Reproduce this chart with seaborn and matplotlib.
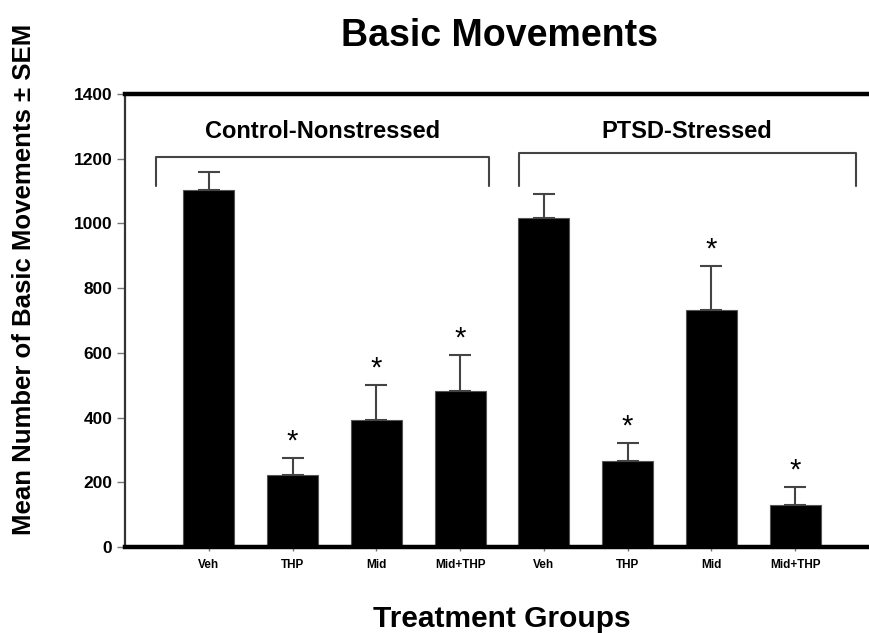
import numpy as np
import pandas as pd
import matplotlib
matplotlib.use('Agg')
import matplotlib.pyplot as plt
import seaborn as sns

# values
groups = ['Control-Nonstressed', 'PTSD-Stressed']
treatments = ['Veh', 'THP', 'Mid', 'Mid+THP', 'Veh', 'THP', 'Mid', 'Mid+THP']
group_of_bar = [0, 0, 0, 0, 1, 1, 1, 1]
means = [1103, 222, 392, 482, 1017, 266, 732, 130]
sems = [56, 53, 108, 111, 74, 55, 136, 55]
stars = [False, True, True, True, False, True, True, True]
yticks = [0, 200, 400, 600, 800, 1000, 1200, 1400]

sns.set_style('white')
plt.rcParams['font.family'] = ['Liberation Sans', 'DejaVu Sans']
plt.rcParams['text.color'] = 'black'
plt.rcParams['axes.labelcolor'] = 'black'
plt.rcParams['xtick.color'] = 'black'
plt.rcParams['ytick.color'] = 'black'

df = pd.DataFrame({'bar': [f'{groups[g]} {t}' for g, t in zip(group_of_bar, treatments)],
                   'mean': means})

fig = plt.figure(figsize=(8.69, 6.33), dpi=100)
ax = fig.add_axes([0.1438, 0.1359, 0.8677, 0.7156])

sns.barplot(data=df, x='bar', y='mean', color='black', width=0.61,
            edgecolor='#555555', linewidth=0.8, saturation=1, errorbar=None, ax=ax)

xs = np.arange(len(means))
ax.errorbar(xs, means, yerr=[np.zeros(len(sems)), sems], fmt='none',
            ecolor='#444444', elinewidth=1.5, capsize=8, capthick=1.5)

for x, m, s, st in zip(xs, means, sems, stars):
    if st:
        ax.text(x, m + s + 8, '*', ha='center', va='bottom', fontsize=21,
                color='black')

# group brackets
brackets = [(-0.63, 3.34, 1205), (3.70, 7.72, 1218)]
for (x0, x1, yb), name in zip(brackets, groups):
    ax.plot([x0, x0, x1, x1], [1116, yb, yb, 1116], color='#444444', lw=1.5,
            clip_on=False)
    ax.text((x0 + x1) / 2, 1285, name, ha='center', va='center',
            fontsize=17, fontweight='bold')

ax.set_xlim(-1, 8)
ax.set_ylim(0, 1400)
ax.set_yticks(yticks)
ax.set_yticklabels([str(v) for v in yticks], fontsize=12.5, fontweight='bold')
ax.set_xticks(xs)
ax.set_xticklabels(treatments, fontsize=8.5, fontweight='bold')
ax.tick_params(axis='y', direction='out', length=6, width=1, color='#777777', pad=3, left=True)
ax.tick_params(axis='x', direction='out', length=3, width=1, color='#777777', pad=6, bottom=True)

for side in ['top', 'bottom']:
    ax.spines[side].set_linewidth(3.2)
    ax.spines[side].set_color('black')
ax.spines['left'].set_linewidth(1.6)
ax.spines['left'].set_color('#333333')
ax.spines['right'].set_visible(False)

ax.set_xlabel('Treatment Groups', fontsize=21.5, fontweight='bold', labelpad=24)
ax.set_ylabel('Mean Number of Basic Movements \u00b1 SEM', fontsize=18.5,
              fontweight='bold')
ax.yaxis.set_label_coords(-0.118, 0.59)
fig.text(0.575, 0.943, 'Basic Movements', ha='center', va='center',
         fontsize=27, fontweight='bold')

fig.savefig('out.png', dpi=100)
